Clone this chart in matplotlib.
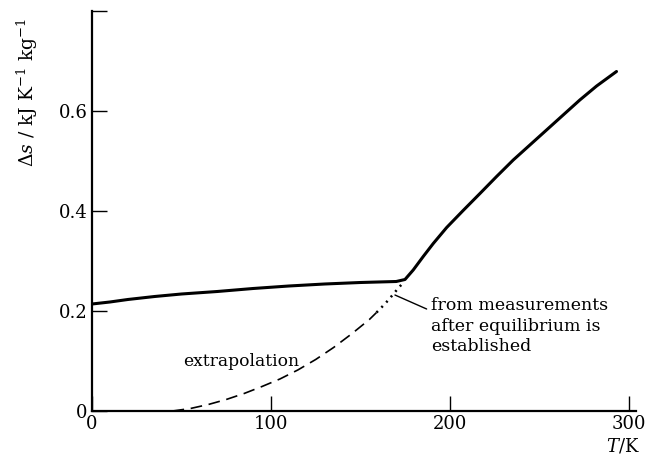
import matplotlib
matplotlib.use("Agg")
import matplotlib.pyplot as plt

t_meas = [0, 10, 20, 35, 50, 70, 90, 110, 130, 150, 170, 174.9, 179.5, 185.1, 190.7,
          198.2, 207.4, 216.8, 226.1, 235.4, 244.7, 254, 263.3, 272.6, 282, 293.1]
s_meas = [0.214, 0.218, 0.223, 0.229, 0.234, 0.239, 0.245, 0.250, 0.254, 0.257, 0.259,
          0.263, 0.282, 0.309, 0.335, 0.367, 0.401, 0.435, 0.469, 0.502, 0.532, 0.562,
          0.592, 0.622, 0.650, 0.679]

# extrapolation (dashed), then the dotted bit near the join
t_extra = [45, 55, 65, 75, 85, 95, 105, 115, 125, 135, 145, 155, 159]
s_extra = [0.0, 0.005, 0.013, 0.023, 0.035, 0.049, 0.064, 0.082, 0.103, 0.127, 0.154, 0.183, 0.197]
t_dot = [159, 162, 165.4, 168.2, 171, 174]
s_dot = [0.197, 0.208, 0.221, 0.233, 0.245, 0.257]

x_ticks = [0, 100, 200, 300]
x_labels = ['0', '100', '200', '300']
y_ticks = [0, 0.2, 0.4, 0.6, 0.8]
y_labels = ['0', '0.2', '0.4', '0.6', '']

plt.rcParams['mathtext.fontset'] = 'dejavuserif'
serif = 'DejaVu Serif'

fig = plt.figure(figsize=(6.46, 4.54), dpi=100)
ax = fig.add_axes([92 / 646, 1 - 411 / 454, 544 / 646, 400 / 454])

ax.plot(t_meas, s_meas, color='black', lw=2.2, solid_capstyle='round', solid_joinstyle='round')
ax.plot(t_extra, s_extra, color='black', lw=1.2, dashes=(7, 4))
ax.plot(t_dot, s_dot, color='black', lw=1.8, linestyle=(0, (0.8, 2.0)))

# pointer to the label
ax.annotate('', xy=(169.3, 0.232), xytext=(187, 0.204),
            arrowprops=dict(arrowstyle='-', color='black', lw=1.0, shrinkA=0, shrinkB=0))
ax.text(189.5, 0.227, 'from measurements\nafter equilibrium is\nestablished',
        ha='left', va='top', fontsize=12.5, family=serif, linespacing=1.25)
ax.text(50.8, 0.098, 'extrapolation', ha='left', va='center', fontsize=12.3, family=serif)

ax.set_xlim(0, 304)
ax.set_ylim(0, 0.8)
ax.set_xticks(x_ticks)
ax.set_xticklabels(x_labels)
ax.set_yticks(y_ticks)
ax.set_yticklabels(y_labels)
ax.tick_params(direction='in', length=11, width=1.0, labelsize=13)
ax.tick_params(axis='x', pad=3)
ax.tick_params(axis='y', pad=3)
for lab in ax.get_xticklabels() + ax.get_yticklabels():
    lab.set_family(serif)

ax.spines['top'].set_visible(False)
ax.spines['right'].set_visible(False)
ax.spines['left'].set_linewidth(1.6)
ax.spines['bottom'].set_linewidth(1.6)

fig.text(27 / 646, 1 - 92 / 454, r'$\Delta s$ / kJ K$^{-1}$ kg$^{-1}$',
         rotation=90, ha='center', va='center', fontsize=13.5, family=serif)
fig.text(640 / 646, 1 - 446 / 454, r'$T$/K', ha='right', va='center',
         fontsize=13, family=serif)

fig.savefig('out.png', dpi=100)
